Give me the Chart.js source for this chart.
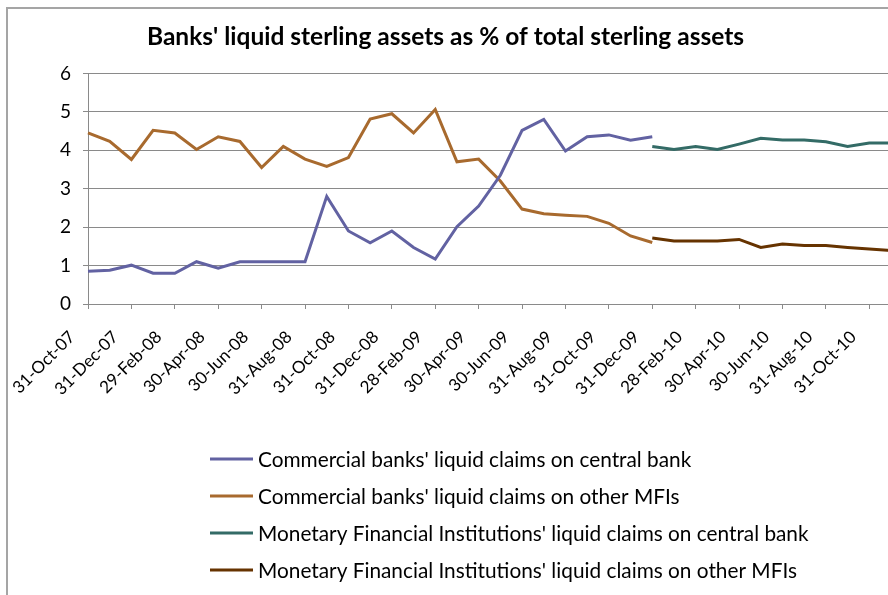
<!DOCTYPE html>
<html>
<head>
<meta charset="utf-8">
<script src="https://cdn.jsdelivr.net/npm/chart.js@4.4.1/dist/chart.umd.min.js"></script>
<style>
  html, body { margin: 0; padding: 0; background: #fff; overflow: hidden; }
  #wrap { position: relative; width: 888px; height: 595px; overflow: hidden; }
  #frame { position: absolute; left: 6px; top: 7px; width: 1000px; height: 700px;
           border-left: 2px solid #a5a5a5; border-top: 2px solid #a5a5a5; }
  #holder { position: absolute; left: 0; top: 0; width: 891px; height: 595px; }
</style>
</head>
<body>
<div id="wrap">
  <div id="frame"></div>
  <div id="holder"><canvas id="chart"></canvas></div>
</div>
<script>
// month-end dates, Oct 2007 .. Nov 2010
const months = ['31-Oct-07','30-Nov-07','31-Dec-07','31-Jan-08','29-Feb-08','31-Mar-08','30-Apr-08','31-May-08',
  '30-Jun-08','31-Jul-08','31-Aug-08','30-Sep-08','31-Oct-08','30-Nov-08','31-Dec-08','31-Jan-09','28-Feb-09',
  '31-Mar-09','30-Apr-09','31-May-09','30-Jun-09','31-Jul-09','31-Aug-09','30-Sep-09','31-Oct-09','30-Nov-09',
  '31-Dec-09','31-Jan-10','28-Feb-10','31-Mar-10','30-Apr-10','31-May-10','30-Jun-10','31-Jul-10','31-Aug-10',
  '30-Sep-10','31-Oct-10','30-Nov-10'];

// old series (to Dec-09)
const commCentral = [0.85,0.88,1.01,0.80,0.80,1.10,0.93,1.10,1.10,1.10,1.10,2.80,1.90,1.59,1.90,1.47,1.17,2.01,2.55,3.35,
  4.52,4.80,3.98,4.35,4.40,4.26,4.35,
  null,null,null,null,null,null,null,null,null,null,null];
const commOther = [4.45,4.23,3.76,4.52,4.45,4.02,4.35,4.23,3.55,4.10,3.77,3.58,3.81,4.81,4.95,4.45,5.06,3.70,3.77,3.20,
  2.47,2.35,2.31,2.28,2.10,1.77,1.60,
  null,null,null,null,null,null,null,null,null,null,null];

// new series (from Dec-09)
const mfiCentral = [null,null,null,null,null,null,null,null,null,null,null,null,null,null,null,null,null,null,null,null,
  null,null,null,null,null,null,
  4.10,4.02,4.10,4.02,4.16,4.31,4.27,4.27,4.22,4.10,4.19,4.19];
const mfiOther = [null,null,null,null,null,null,null,null,null,null,null,null,null,null,null,null,null,null,null,null,
  null,null,null,null,null,null,
  1.72,1.64,1.64,1.64,1.68,1.47,1.56,1.52,1.52,1.47,1.43,1.39];

const seriesNames = [
  "Commercial banks' liquid claims on central bank",
  "Commercial banks' liquid claims on other MFIs",
  "Monetary Financial Institutions' liquid claims on central bank",
  "Monetary Financial Institutions' liquid claims on other MFIs"
];
const seriesColors = ['#6262a2', '#a86a2e', '#336b66', '#663300'];

const FONT = 'Lato, "Liberation Sans", sans-serif';

// legend drawn as a single left-aligned column under the axis
const columnLegend = {
  id: 'columnLegend',
  afterDraw(chart) {
    const ctx = chart.ctx;
    const x0 = 210, lineLen = 43, firstY = chart.chartArea.bottom + 155, gap = 37;
    ctx.save();
    ctx.font = '20.8px ' + FONT;
    ctx.textBaseline = 'middle';
    ctx.fillStyle = '#000';
    chart.data.datasets.forEach((ds, i) => {
      const y = firstY + i * gap;
      ctx.strokeStyle = ds.borderColor;
      ctx.lineWidth = 3;
      ctx.beginPath();
      ctx.moveTo(x0, y);
      ctx.lineTo(x0 + lineLen, y);
      ctx.stroke();
      ctx.fillText(ds.label, x0 + lineLen + 5, y + 1);
    });
    ctx.restore();
  }
};

const data = {
  labels: months,
  datasets: [commCentral, commOther, mfiCentral, mfiOther].map((vals, i) => ({
    label: seriesNames[i],
    data: vals,
    borderColor: seriesColors[i],
    backgroundColor: seriesColors[i],
    borderWidth: 3,
    pointRadius: 0,
    tension: 0,
    spanGaps: false
  }))
};

const options = {
  responsive: true,
  maintainAspectRatio: false,
  animation: false,
  layout: { padding: { left: 0, right: 0, top: 0, bottom: 161 } },
  plugins: {
    legend: { display: false },
    tooltip: { enabled: false },
    title: {
      display: true,
      text: "Banks' liquid sterling assets as % of total sterling assets",
      color: '#000',
      font: { family: FONT, size: 24.5, weight: 'bold' },
      padding: { top: 22, bottom: 22 },
      lineHeight: 1.2
    }
  },
  scales: {
    x: {
      ticks: {
        autoSkip: false,
        maxRotation: 45,
        minRotation: 45,
        color: '#000',
        font: { family: FONT, size: 17 },
        padding: 18,
        labelOffset: -16,
        callback: (v, i) => (i % 2 === 0 ? months[i] : '')
      },
      grid: {
        drawOnChartArea: false,
        drawTicks: true,
        tickLength: 5,
        color: c => (c.index % 2 === 0 ? '#8a8a8a' : 'rgba(0,0,0,0)')
      },
      border: { color: '#8a8a8a', width: 1 },
      afterFit: s => { s.height = 130; s.paddingLeft = 0; s.paddingRight = 0; }
    },
    y: {
      min: 0,
      max: 6,
      ticks: {
        stepSize: 1,
        color: '#000',
        font: { family: FONT, size: 19 },
        padding: 12
      },
      grid: { color: '#8a8a8a', tickLength: 5 },
      border: { color: '#8a8a8a', width: 1 },
      afterFit: s => { s.width = 88; }
    }
  }
};

new Chart('chart', { type: 'line', data, options, plugins: [columnLegend] });
</script>
</body>
</html>
